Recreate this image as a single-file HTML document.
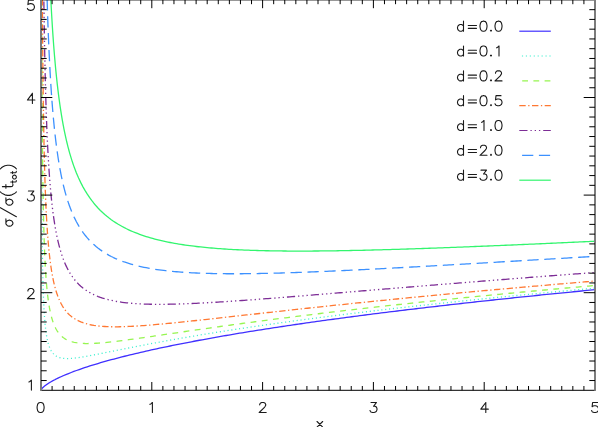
<!DOCTYPE html>
<html><head><meta charset="utf-8"><title>plot</title>
<style>html,body{margin:0;padding:0;background:#fff;font-family:"Liberation Sans",sans-serif}body{width:598px;height:427px;overflow:hidden}</style></head>
<body>
<svg width="598" height="427" viewBox="0 0 598 427" style="display:block">
<rect width="598" height="427" fill="#fff"/>
<defs><clipPath id="c"><rect x="41.00" y="-0.10" width="554.00" height="390.40"/></clipPath></defs>
<path d="M595.00,289.69 L592.33,289.95 L589.65,290.21 L586.98,290.46 L584.31,290.72 L581.64,290.98 L578.96,291.24 L576.29,291.50 L573.62,291.77 L570.95,292.03 L568.27,292.29 L565.60,292.56 L562.93,292.82 L560.26,293.09 L557.58,293.35 L554.91,293.62 L552.24,293.89 L549.57,294.15 L546.89,294.42 L544.22,294.69 L541.55,294.96 L538.88,295.24 L536.20,295.51 L533.53,295.78 L530.86,296.06 L528.19,296.33 L525.51,296.61 L522.84,296.88 L520.17,297.16 L517.50,297.44 L514.82,297.72 L512.15,298.00 L509.48,298.28 L506.81,298.56 L504.13,298.84 L501.46,299.13 L498.79,299.41 L496.12,299.70 L493.44,299.98 L490.77,300.27 L488.10,300.56 L485.42,300.85 L482.75,301.14 L480.08,301.43 L477.41,301.72 L474.73,302.02 L472.06,302.31 L469.39,302.60 L466.72,302.90 L464.04,303.20 L461.37,303.50 L458.70,303.80 L456.03,304.10 L453.35,304.40 L450.68,304.70 L448.01,305.00 L445.34,305.31 L442.66,305.61 L439.99,305.92 L437.32,306.23 L434.65,306.54 L431.97,306.85 L429.30,307.16 L426.63,307.47 L423.96,307.78 L421.28,308.10 L418.61,308.41 L415.94,308.73 L413.27,309.05 L410.59,309.37 L407.92,309.69 L405.25,310.01 L402.58,310.34 L399.90,310.66 L397.23,310.99 L394.56,311.31 L391.89,311.64 L389.21,311.97 L386.54,312.31 L383.87,312.64 L381.19,312.97 L378.52,313.31 L375.85,313.64 L373.18,313.98 L370.50,314.32 L367.83,314.66 L365.16,315.01 L362.49,315.35 L359.81,315.70 L357.14,316.05 L354.47,316.39 L351.80,316.75 L349.12,317.10 L346.45,317.45 L343.78,317.81 L341.11,318.16 L338.43,318.52 L335.76,318.88 L333.09,319.25 L330.42,319.61 L327.74,319.98 L325.07,320.34 L322.40,320.71 L319.73,321.08 L317.05,321.46 L314.38,321.83 L311.71,322.21 L309.04,322.59 L306.36,322.97 L303.69,323.35 L301.02,323.74 L298.35,324.13 L295.67,324.51 L293.00,324.91 L290.33,325.30 L287.66,325.69 L284.98,326.09 L282.31,326.49 L279.64,326.90 L276.97,327.30 L274.29,327.71 L271.62,328.12 L268.95,328.53 L266.27,328.94 L263.60,329.36 L260.93,329.78 L258.26,330.20 L255.58,330.63 L252.91,331.05 L250.24,331.48 L247.57,331.92 L244.89,332.35 L242.22,332.79 L239.55,333.23 L236.88,333.68 L234.20,334.13 L231.53,334.58 L228.86,335.03 L226.19,335.49 L223.51,335.95 L220.84,336.42 L218.17,336.88 L215.50,337.35 L212.82,337.83 L210.15,338.31 L207.48,338.79 L204.81,339.28 L202.13,339.77 L199.46,340.26 L196.79,340.76 L194.12,341.26 L191.44,341.77 L188.77,342.28 L186.10,342.79 L183.43,343.31 L180.75,343.84 L178.08,344.37 L175.41,344.90 L172.74,345.44 L170.06,345.99 L167.39,346.54 L164.72,347.10 L162.04,347.66 L159.37,348.23 L156.70,348.80 L154.03,349.38 L151.35,349.97 L148.68,350.56 L146.01,351.16 L143.34,351.77 L140.66,352.39 L137.99,353.01 L135.32,353.64 L132.65,354.28 L129.97,354.93 L127.30,355.58 L124.63,356.25 L121.96,356.92 L119.28,357.61 L116.61,358.31 L113.94,359.01 L111.27,359.73 L108.59,360.46 L105.92,361.21 L103.25,361.96 L100.58,362.73 L97.90,363.52 L95.23,364.32 L92.56,365.14 L89.89,365.98 L87.21,366.84 L84.54,367.72 L81.87,368.62 L79.20,369.54 L76.52,370.49 L73.85,371.47 L71.18,372.49 L68.51,373.54 L65.83,374.63 L63.16,375.76 L62.88,375.88 L62.60,376.01 L62.32,376.13 L62.04,376.25 L61.76,376.38 L61.48,376.50 L61.20,376.63 L60.92,376.75 L60.64,376.88 L60.35,377.01 L60.07,377.14 L59.79,377.27 L59.51,377.40 L59.23,377.53 L58.95,377.66 L58.67,377.79 L58.39,377.92 L58.11,378.06 L57.83,378.19 L57.55,378.33 L57.27,378.46 L56.99,378.60 L56.71,378.74 L56.43,378.88 L56.15,379.02 L55.87,379.16 L55.59,379.30 L55.31,379.44 L55.03,379.59 L54.74,379.73 L54.46,379.88 L54.18,380.02 L53.90,380.17 L53.62,380.32 L53.34,380.47 L53.06,380.62 L52.78,380.78 L52.50,380.93 L52.22,381.08 L51.94,381.24 L51.66,381.40 L51.38,381.56 L51.10,381.72 L50.82,381.88 L50.54,382.05 L50.26,382.21 L49.98,382.38 L49.70,382.55 L49.42,382.72 L49.13,382.89 L48.85,383.07 L48.57,383.25 L48.29,383.43 L48.01,383.61 L47.73,383.79 L47.45,383.98 L47.17,384.17 L46.89,384.36 L46.61,384.56 L46.33,384.76 L46.05,384.96 L45.77,385.17 L45.49,385.38 L45.21,385.59 L44.93,385.81 L44.65,386.04 L44.37,386.27 L44.09,386.50 L43.81,386.75 L43.52,387.00 L43.24,387.26 L42.96,387.53 L42.68,387.81 L42.40,388.11 L42.12,388.43 L41.84,388.77 L41.56,389.15 L41.28,389.59 L41.00,390.30" fill="none" stroke="#4030ff" stroke-width="1.30" stroke-linejoin="round" clip-path="url(#c)"/>
<path d="M595.00,288.13 L592.82,288.33 L590.64,288.53 L588.46,288.73 L586.28,288.92 L584.11,289.12 L581.93,289.32 L579.75,289.52 L577.57,289.72 L575.39,289.92 L573.21,290.12 L571.03,290.32 L568.85,290.53 L566.67,290.73 L564.50,290.93 L562.32,291.14 L560.14,291.34 L557.96,291.54 L555.78,291.75 L553.60,291.95 L551.42,292.16 L549.24,292.37 L547.06,292.57 L544.89,292.78 L542.71,292.99 L540.53,293.19 L538.35,293.40 L536.17,293.61 L533.99,293.82 L531.81,294.03 L529.63,294.24 L527.45,294.45 L525.27,294.67 L523.10,294.88 L520.92,295.09 L518.74,295.30 L516.56,295.52 L514.38,295.73 L512.20,295.95 L510.02,296.16 L507.84,296.38 L505.66,296.59 L503.49,296.81 L501.31,297.03 L499.13,297.25 L496.95,297.47 L494.77,297.68 L492.59,297.90 L490.41,298.12 L488.23,298.35 L486.05,298.57 L483.88,298.79 L481.70,299.01 L479.52,299.24 L477.34,299.46 L475.16,299.68 L472.98,299.91 L470.80,300.13 L468.62,300.36 L466.44,300.59 L464.27,300.81 L462.09,301.04 L459.91,301.27 L457.73,301.50 L455.55,301.73 L453.37,301.96 L451.19,302.19 L449.01,302.43 L446.83,302.66 L444.66,302.89 L442.48,303.12 L440.30,303.36 L438.12,303.59 L435.94,303.83 L433.76,304.07 L431.58,304.30 L429.40,304.54 L427.22,304.78 L425.04,305.02 L422.87,305.26 L420.69,305.50 L418.51,305.74 L416.33,305.99 L414.15,306.23 L411.97,306.47 L409.79,306.72 L407.61,306.96 L405.43,307.21 L403.26,307.45 L401.08,307.70 L398.90,307.95 L396.72,308.20 L394.54,308.45 L392.36,308.70 L390.18,308.95 L388.00,309.20 L385.82,309.46 L383.65,309.71 L381.47,309.97 L379.29,310.22 L377.11,310.48 L374.93,310.74 L372.75,310.99 L370.57,311.25 L368.39,311.51 L366.21,311.77 L364.04,312.03 L361.86,312.30 L359.68,312.56 L357.50,312.82 L355.32,313.09 L353.14,313.36 L350.96,313.62 L348.78,313.89 L346.60,314.16 L344.43,314.43 L342.25,314.70 L340.07,314.97 L337.89,315.25 L335.71,315.52 L333.53,315.79 L331.35,316.07 L329.17,316.35 L326.99,316.62 L324.81,316.90 L322.64,317.18 L320.46,317.46 L318.28,317.75 L316.10,318.03 L313.92,318.31 L311.74,318.60 L309.56,318.89 L307.38,319.17 L305.20,319.46 L303.03,319.75 L300.85,320.04 L298.67,320.34 L296.49,320.63 L294.31,320.92 L292.13,321.22 L289.95,321.52 L287.77,321.82 L285.59,322.11 L283.42,322.42 L281.24,322.72 L279.06,323.02 L276.88,323.33 L274.70,323.63 L272.52,323.94 L270.34,324.25 L268.16,324.56 L265.98,324.87 L263.81,325.18 L261.63,325.50 L259.45,325.81 L257.27,326.13 L255.09,326.45 L252.91,326.77 L250.73,327.09 L248.55,327.41 L246.37,327.73 L244.20,328.06 L242.02,328.39 L239.84,328.72 L237.66,329.05 L235.48,329.38 L233.30,329.71 L231.12,330.05 L228.94,330.38 L226.76,330.72 L224.58,331.06 L222.41,331.41 L220.23,331.75 L218.05,332.10 L215.87,332.44 L213.69,332.79 L211.51,333.14 L209.33,333.50 L207.15,333.85 L204.97,334.21 L202.80,334.56 L200.62,334.92 L198.44,335.29 L196.26,335.65 L194.08,336.02 L191.90,336.39 L189.72,336.76 L187.54,337.13 L185.36,337.50 L183.19,337.88 L181.01,338.26 L178.83,338.64 L176.65,339.02 L174.47,339.40 L172.29,339.79 L170.11,340.18 L167.93,340.57 L165.75,340.96 L163.58,341.36 L161.40,341.76 L159.22,342.16 L157.04,342.56 L154.86,342.97 L152.68,343.37 L150.50,343.78 L148.32,344.19 L146.14,344.61 L143.97,345.02 L141.79,345.44 L139.61,345.86 L137.43,346.28 L135.25,346.71 L133.07,347.13 L130.89,347.56 L128.71,347.99 L126.53,348.43 L124.35,348.86 L122.18,349.30 L120.00,349.73 L117.82,350.17 L115.64,350.61 L113.46,351.05 L111.28,351.49 L109.10,351.93 L106.92,352.37 L104.74,352.81 L102.57,353.24 L100.39,353.68 L98.21,354.11 L96.03,354.54 L93.85,354.96 L91.67,355.38 L89.49,355.78 L87.31,356.18 L85.13,356.57 L82.96,356.93 L80.78,357.28 L78.60,357.61 L76.42,357.90 L74.24,358.15 L73.65,358.21 L73.08,358.27 L72.51,358.32 L71.96,358.37 L71.41,358.41 L70.88,358.44 L70.35,358.48 L69.83,358.50 L69.32,358.53 L68.83,358.54 L68.33,358.56 L67.85,358.56 L67.38,358.57 L66.92,358.56 L66.46,358.56 L66.01,358.55 L65.57,358.53 L65.14,358.51 L64.71,358.48 L64.29,358.45 L63.88,358.41 L63.48,358.37 L63.08,358.32 L62.69,358.27 L62.31,358.21 L61.94,358.15 L61.57,358.08 L61.20,358.01 L60.85,357.93 L60.50,357.84 L60.15,357.75 L59.82,357.66 L59.49,357.56 L59.16,357.45 L58.84,357.34 L58.53,357.22 L58.22,357.10 L57.91,356.97 L57.62,356.84 L57.32,356.70 L57.03,356.55 L56.75,356.40 L56.47,356.24 L56.20,356.08 L55.93,355.91 L55.67,355.74 L55.41,355.56 L55.16,355.37 L54.91,355.18 L54.66,354.98 L54.42,354.77 L54.19,354.56 L53.95,354.34 L53.73,354.12 L53.50,353.88 L53.28,353.65 L53.06,353.40 L52.85,353.15 L52.64,352.90 L52.44,352.63 L52.24,352.36 L52.04,352.08 L51.84,351.80 L51.65,351.51 L51.46,351.21 L51.28,350.91 L51.10,350.59 L50.92,350.27 L50.75,349.95 L50.57,349.61 L50.41,349.27 L50.24,348.93 L50.08,348.57 L49.92,348.21 L49.76,347.84 L49.61,347.46 L49.45,347.07 L49.31,346.68 L49.16,346.28 L49.01,345.87 L48.87,345.45 L48.73,345.03 L48.60,344.60 L48.46,344.15 L48.33,343.71 L48.20,343.25 L48.08,342.78 L47.95,342.31 L47.83,341.83 L47.71,341.33 L47.59,340.83 L47.47,340.33 L47.36,339.81 L47.25,339.28 L47.14,338.75 L47.03,338.20 L46.92,337.65 L46.82,337.09 L46.72,336.52 L46.62,335.94 L46.52,335.35 L46.42,334.75 L46.32,334.14 L46.23,333.52 L46.14,332.89 L46.05,332.26 L45.96,331.61 L45.87,330.95 L45.79,330.28 L45.70,329.61 L45.62,328.92 L45.54,328.22 L45.46,327.51 L45.38,326.79 L45.30,326.07 L45.23,325.33 L45.15,324.58 L45.08,323.81 L45.01,323.04 L44.94,322.26 L44.87,321.47 L44.80,320.66 L44.73,319.84 L44.67,319.02 L44.60,318.18 L44.54,317.33 L44.48,316.46 L44.41,315.59 L44.35,314.71 L44.29,313.81 L44.24,312.90 L44.18,311.98 L44.12,311.04 L44.07,310.10 L44.01,309.14 L43.96,308.17 L43.91,307.19 L43.86,306.19 L43.81,305.18 L43.76,304.16 L43.71,303.12 L43.66,302.08 L43.61,301.02 L43.57,299.94 L43.52,298.85 L43.48,297.75 L43.44,296.64 L43.39,295.51 L43.35,294.37 L43.31,293.21 L43.27,292.04 L43.23,290.86 L43.19,289.66 L43.15,288.45 L43.11,287.22 L43.08,285.98 L43.04,284.72 L43.00,283.45 L42.97,282.16 L42.93,280.86 L42.90,279.54 L42.87,278.21 L42.83,276.86 L42.80,275.50 L42.77,274.12 L42.74,272.72 L42.71,271.31 L42.68,269.88 L42.65,268.44 L42.62,266.98 L42.59,265.51 L42.56,264.01 L42.53,262.50 L42.51,260.98 L42.48,259.43 L42.45,257.87 L42.43,256.29 L42.40,254.70 L42.38,253.09 L42.35,251.46 L42.33,249.81 L42.31,248.14 L42.28,246.46 L42.26,244.75 L42.24,243.03 L42.22,241.29 L42.20,239.53 L42.17,237.76 L42.15,235.96 L42.13,234.14 L42.11,232.31 L42.09,230.45 L42.07,228.58 L42.06,226.69 L42.04,224.77 L42.02,222.84 L42.00,220.88 L41.98,218.91 L41.97,216.91 L41.95,214.90 L41.93,212.86 L41.92,210.80 L41.90,208.72 L41.88,206.62 L41.87,204.50 L41.85,202.36 L41.84,200.19 L41.82,198.00 L41.81,195.79 L41.79,193.56 L41.78,191.30 L41.77,189.02 L41.75,186.72 L41.74,184.39 L41.73,182.04 L41.71,179.67 L41.70,177.27 L41.69,174.85 L41.68,172.41 L41.66,169.94 L41.65,167.45 L41.64,164.93 L41.63,162.38 L41.62,159.81 L41.61,157.22 L41.60,154.60 L41.59,151.95 L41.58,149.28 L41.57,146.58 L41.56,143.86 L41.55,141.10 L41.54,138.33 L41.53,135.52 L41.52,132.69 L41.51,129.82 L41.50,126.94 L41.49,124.02 L41.48,121.07 L41.47,118.10 L41.47,115.09 L41.46,112.06 L41.45,109.00 L41.44,105.91 L41.43,102.79 L41.43,99.64 L41.42,96.46 L41.41,93.24 L41.40,90.00 L41.40,86.73 L41.39,83.42 L41.38,80.08 L41.38,76.72 L41.37,73.31 L41.36,69.88 L41.36,66.41 L41.35,62.92 L41.34,59.38 L41.34,55.82 L41.33,52.22" fill="none" stroke="#40f0d0" stroke-width="1.30" stroke-linejoin="round" stroke-dasharray="1.1 2.78" stroke-dashoffset="3.58" clip-path="url(#c)"/>
<path d="M595.00,285.49 L592.82,285.69 L590.64,285.88 L588.46,286.07 L586.28,286.26 L584.11,286.45 L581.93,286.65 L579.75,286.84 L577.57,287.03 L575.39,287.23 L573.21,287.42 L571.03,287.62 L568.85,287.81 L566.67,288.01 L564.50,288.20 L562.32,288.40 L560.14,288.60 L557.96,288.79 L555.78,288.99 L553.60,289.19 L551.42,289.39 L549.24,289.59 L547.06,289.79 L544.89,289.99 L542.71,290.19 L540.53,290.39 L538.35,290.59 L536.17,290.79 L533.99,290.99 L531.81,291.20 L529.63,291.40 L527.45,291.60 L525.27,291.81 L523.10,292.01 L520.92,292.22 L518.74,292.42 L516.56,292.63 L514.38,292.84 L512.20,293.04 L510.02,293.25 L507.84,293.46 L505.66,293.67 L503.49,293.87 L501.31,294.08 L499.13,294.29 L496.95,294.50 L494.77,294.71 L492.59,294.93 L490.41,295.14 L488.23,295.35 L486.05,295.56 L483.88,295.78 L481.70,295.99 L479.52,296.20 L477.34,296.42 L475.16,296.63 L472.98,296.85 L470.80,297.07 L468.62,297.28 L466.44,297.50 L464.27,297.72 L462.09,297.94 L459.91,298.16 L457.73,298.37 L455.55,298.59 L453.37,298.82 L451.19,299.04 L449.01,299.26 L446.83,299.48 L444.66,299.70 L442.48,299.93 L440.30,300.15 L438.12,300.38 L435.94,300.60 L433.76,300.83 L431.58,301.05 L429.40,301.28 L427.22,301.51 L425.04,301.74 L422.87,301.97 L420.69,302.20 L418.51,302.43 L416.33,302.66 L414.15,302.89 L411.97,303.12 L409.79,303.35 L407.61,303.59 L405.43,303.82 L403.26,304.05 L401.08,304.29 L398.90,304.52 L396.72,304.76 L394.54,305.00 L392.36,305.24 L390.18,305.47 L388.00,305.71 L385.82,305.95 L383.65,306.19 L381.47,306.43 L379.29,306.68 L377.11,306.92 L374.93,307.16 L372.75,307.41 L370.57,307.65 L368.39,307.90 L366.21,308.14 L364.04,308.39 L361.86,308.64 L359.68,308.88 L357.50,309.13 L355.32,309.38 L353.14,309.63 L350.96,309.88 L348.78,310.14 L346.60,310.39 L344.43,310.64 L342.25,310.90 L340.07,311.15 L337.89,311.41 L335.71,311.66 L333.53,311.92 L331.35,312.18 L329.17,312.44 L326.99,312.70 L324.81,312.96 L322.64,313.22 L320.46,313.48 L318.28,313.75 L316.10,314.01 L313.92,314.27 L311.74,314.54 L309.56,314.81 L307.38,315.07 L305.20,315.34 L303.03,315.61 L300.85,315.88 L298.67,316.15 L296.49,316.42 L294.31,316.70 L292.13,316.97 L289.95,317.24 L287.77,317.52 L285.59,317.79 L283.42,318.07 L281.24,318.35 L279.06,318.63 L276.88,318.91 L274.70,319.19 L272.52,319.47 L270.34,319.75 L268.16,320.03 L265.98,320.32 L263.81,320.60 L261.63,320.89 L259.45,321.18 L257.27,321.47 L255.09,321.75 L252.91,322.04 L250.73,322.34 L248.55,322.63 L246.37,322.92 L244.20,323.21 L242.02,323.51 L239.84,323.80 L237.66,324.10 L235.48,324.40 L233.30,324.70 L231.12,325.00 L228.94,325.30 L226.76,325.60 L224.58,325.90 L222.41,326.21 L220.23,326.51 L218.05,326.81 L215.87,327.12 L213.69,327.43 L211.51,327.74 L209.33,328.04 L207.15,328.35 L204.97,328.66 L202.80,328.98 L200.62,329.29 L198.44,329.60 L196.26,329.92 L194.08,330.23 L191.90,330.55 L189.72,330.86 L187.54,331.18 L185.36,331.50 L183.19,331.81 L181.01,332.13 L178.83,332.45 L176.65,332.77 L174.47,333.09 L172.29,333.41 L170.11,333.73 L167.93,334.05 L165.75,334.37 L163.58,334.69 L161.40,335.02 L159.22,335.34 L157.04,335.66 L154.86,335.98 L152.68,336.30 L150.50,336.62 L148.32,336.93 L146.14,337.25 L143.97,337.57 L141.79,337.88 L139.61,338.19 L137.43,338.50 L135.25,338.81 L133.07,339.12 L130.89,339.42 L128.71,339.72 L126.53,340.01 L124.35,340.30 L122.18,340.59 L120.00,340.87 L117.82,341.14 L115.64,341.41 L113.46,341.66 L111.28,341.91 L109.10,342.15 L106.92,342.38 L104.74,342.59 L102.57,342.79 L100.39,342.97 L98.21,343.13 L96.03,343.27 L93.85,343.38 L91.67,343.47 L89.49,343.52 L87.31,343.53 L85.13,343.50 L82.96,343.41 L80.78,343.26 L78.60,343.04 L76.42,342.73 L74.24,342.32 L73.65,342.19 L73.08,342.05 L72.51,341.91 L71.96,341.75 L71.41,341.59 L70.88,341.43 L70.35,341.25 L69.83,341.07 L69.32,340.88 L68.83,340.68 L68.33,340.48 L67.85,340.27 L67.38,340.05 L66.92,339.82 L66.46,339.59 L66.01,339.35 L65.57,339.10 L65.14,338.84 L64.71,338.58 L64.29,338.30 L63.88,338.02 L63.48,337.73 L63.08,337.44 L62.69,337.13 L62.31,336.82 L61.94,336.50 L61.57,336.17 L61.20,335.83 L60.85,335.48 L60.50,335.13 L60.15,334.76 L59.82,334.39 L59.49,334.01 L59.16,333.62 L58.84,333.22 L58.53,332.82 L58.22,332.40 L57.91,331.98 L57.62,331.54 L57.32,331.10 L57.03,330.65 L56.75,330.19 L56.47,329.72 L56.20,329.24 L55.93,328.75 L55.67,328.25 L55.41,327.74 L55.16,327.23 L54.91,326.70 L54.66,326.16 L54.42,325.62 L54.19,325.06 L53.95,324.49 L53.73,323.91 L53.50,323.33 L53.28,322.73 L53.06,322.12 L52.85,321.51 L52.64,320.88 L52.44,320.24 L52.24,319.59 L52.04,318.93 L51.84,318.26 L51.65,317.58 L51.46,316.88 L51.28,316.18 L51.10,315.47 L50.92,314.74 L50.75,314.00 L50.57,313.26 L50.41,312.50 L50.24,311.72 L50.08,310.94 L49.92,310.15 L49.76,309.34 L49.61,308.52 L49.45,307.69 L49.31,306.85 L49.16,305.99 L49.01,305.13 L48.87,304.25 L48.73,303.36 L48.60,302.45 L48.46,301.54 L48.33,300.61 L48.20,299.67 L48.08,298.71 L47.95,297.74 L47.83,296.76 L47.71,295.77 L47.59,294.76 L47.47,293.74 L47.36,292.70 L47.25,291.65 L47.14,290.59 L47.03,289.52 L46.92,288.43 L46.82,287.32 L46.72,286.21 L46.62,285.07 L46.52,283.93 L46.42,282.77 L46.32,281.59 L46.23,280.40 L46.14,279.19 L46.05,277.97 L45.96,276.74 L45.87,275.49 L45.79,274.22 L45.70,272.94 L45.62,271.64 L45.54,270.33 L45.46,269.00 L45.38,267.66 L45.30,266.30 L45.23,264.92 L45.15,263.53 L45.08,262.12 L45.01,260.70 L44.94,259.25 L44.87,257.80 L44.80,256.32 L44.73,254.83 L44.67,253.32 L44.60,251.79 L44.54,250.25 L44.48,248.68 L44.41,247.10 L44.35,245.51 L44.29,243.89 L44.24,242.26 L44.18,240.60 L44.12,238.93 L44.07,237.24 L44.01,235.54 L43.96,233.81 L43.91,232.06 L43.86,230.30 L43.81,228.51 L43.76,226.71 L43.71,224.89 L43.66,223.04 L43.61,221.18 L43.57,219.30 L43.52,217.40 L43.48,215.47 L43.44,213.53 L43.39,211.56 L43.35,209.58 L43.31,207.57 L43.27,205.54 L43.23,203.49 L43.19,201.42 L43.15,199.33 L43.11,197.21 L43.08,195.07 L43.04,192.91 L43.00,190.73 L42.97,188.53 L42.93,186.30 L42.90,184.05 L42.87,181.78 L42.83,179.48 L42.80,177.16 L42.77,174.82 L42.74,172.45 L42.71,170.05 L42.68,167.64 L42.65,165.20 L42.62,162.73 L42.59,160.24 L42.56,157.72 L42.53,155.18 L42.51,152.62 L42.48,150.02 L42.45,147.40 L42.43,144.76 L42.40,142.09 L42.38,139.39 L42.35,136.66 L42.33,133.91 L42.31,131.13 L42.28,128.33 L42.26,125.49 L42.24,122.63 L42.22,119.74 L42.20,116.82 L42.17,113.87 L42.15,110.89 L42.13,107.89 L42.11,104.85 L42.09,101.79 L42.07,98.69 L42.06,95.57 L42.04,92.41 L42.02,89.22 L42.00,86.01 L41.98,82.76 L41.97,79.48 L41.95,76.17 L41.93,72.82 L41.92,69.45 L41.90,66.04 L41.88,62.60 L41.87,59.13 L41.85,55.62 L41.84,52.08 L41.82,48.50 L41.81,44.89 L41.79,41.25 L41.78,37.57 L41.77,33.86 L41.75,30.11 L41.74,26.33 L41.73,22.51 L41.71,18.65 L41.70,14.76 L41.69,10.83 L41.68,6.86 L41.66,2.85 L41.65,-1.19 L41.64,-5.27 L41.63,-9.39 L41.62,-13.55 L41.61,-17.74 L41.60,-21.98 L41.59,-26.26 L41.58,-30.57" fill="none" stroke="#96f550" stroke-width="1.30" stroke-linejoin="round" stroke-dasharray="5.83 5.45" stroke-dashoffset="9.10" clip-path="url(#c)"/>
<path d="M595.00,281.03 L592.82,281.21 L590.64,281.40 L588.46,281.58 L586.28,281.76 L584.11,281.94 L581.93,282.12 L579.75,282.31 L577.57,282.49 L575.39,282.67 L573.21,282.86 L571.03,283.04 L568.85,283.22 L566.67,283.41 L564.50,283.59 L562.32,283.78 L560.14,283.97 L557.96,284.15 L555.78,284.34 L553.60,284.52 L551.42,284.71 L549.24,284.90 L547.06,285.09 L544.89,285.28 L542.71,285.46 L540.53,285.65 L538.35,285.84 L536.17,286.03 L533.99,286.22 L531.81,286.41 L529.63,286.60 L527.45,286.79 L525.27,286.99 L523.10,287.18 L520.92,287.37 L518.74,287.56 L516.56,287.75 L514.38,287.95 L512.20,288.14 L510.02,288.34 L507.84,288.53 L505.66,288.73 L503.49,288.92 L501.31,289.12 L499.13,289.31 L496.95,289.51 L494.77,289.71 L492.59,289.90 L490.41,290.10 L488.23,290.30 L486.05,290.50 L483.88,290.69 L481.70,290.89 L479.52,291.09 L477.34,291.29 L475.16,291.49 L472.98,291.69 L470.80,291.90 L468.62,292.10 L466.44,292.30 L464.27,292.50 L462.09,292.70 L459.91,292.91 L457.73,293.11 L455.55,293.32 L453.37,293.52 L451.19,293.72 L449.01,293.93 L446.83,294.14 L444.66,294.34 L442.48,294.55 L440.30,294.76 L438.12,294.96 L435.94,295.17 L433.76,295.38 L431.58,295.59 L429.40,295.80 L427.22,296.01 L425.04,296.22 L422.87,296.43 L420.69,296.64 L418.51,296.85 L416.33,297.06 L414.15,297.27 L411.97,297.49 L409.79,297.70 L407.61,297.91 L405.43,298.13 L403.26,298.34 L401.08,298.56 L398.90,298.77 L396.72,298.99 L394.54,299.20 L392.36,299.42 L390.18,299.64 L388.00,299.86 L385.82,300.07 L383.65,300.29 L381.47,300.51 L379.29,300.73 L377.11,300.95 L374.93,301.17 L372.75,301.39 L370.57,301.61 L368.39,301.84 L366.21,302.06 L364.04,302.28 L361.86,302.50 L359.68,302.73 L357.50,302.95 L355.32,303.18 L353.14,303.40 L350.96,303.63 L348.78,303.85 L346.60,304.08 L344.43,304.31 L342.25,304.54 L340.07,304.76 L337.89,304.99 L335.71,305.22 L333.53,305.45 L331.35,305.68 L329.17,305.91 L326.99,306.14 L324.81,306.37 L322.64,306.60 L320.46,306.83 L318.28,307.07 L316.10,307.30 L313.92,307.53 L311.74,307.77 L309.56,308.00 L307.38,308.24 L305.20,308.47 L303.03,308.71 L300.85,308.94 L298.67,309.18 L296.49,309.41 L294.31,309.65 L292.13,309.89 L289.95,310.13 L287.77,310.36 L285.59,310.60 L283.42,310.84 L281.24,311.08 L279.06,311.32 L276.88,311.56 L274.70,311.80 L272.52,312.04 L270.34,312.28 L268.16,312.52 L265.98,312.77 L263.81,313.01 L261.63,313.25 L259.45,313.49 L257.27,313.73 L255.09,313.98 L252.91,314.22 L250.73,314.46 L248.55,314.71 L246.37,314.95 L244.20,315.19 L242.02,315.44 L239.84,315.68 L237.66,315.92 L235.48,316.17 L233.30,316.41 L231.12,316.65 L228.94,316.90 L226.76,317.14 L224.58,317.38 L222.41,317.63 L220.23,317.87 L218.05,318.11 L215.87,318.35 L213.69,318.59 L211.51,318.83 L209.33,319.08 L207.15,319.32 L204.97,319.55 L202.80,319.79 L200.62,320.03 L198.44,320.27 L196.26,320.50 L194.08,320.74 L191.90,320.97 L189.72,321.21 L187.54,321.44 L185.36,321.67 L183.19,321.90 L181.01,322.12 L178.83,322.35 L176.65,322.57 L174.47,322.79 L172.29,323.01 L170.11,323.23 L167.93,323.44 L165.75,323.65 L163.58,323.86 L161.40,324.06 L159.22,324.26 L157.04,324.46 L154.86,324.65 L152.68,324.84 L150.50,325.02 L148.32,325.19 L146.14,325.37 L143.97,325.53 L141.79,325.69 L139.61,325.84 L137.43,325.98 L135.25,326.12 L133.07,326.24 L130.89,326.36 L128.71,326.46 L126.53,326.55 L124.35,326.63 L122.18,326.70 L120.00,326.75 L117.82,326.78 L115.64,326.79 L113.46,326.79 L111.28,326.76 L109.10,326.71 L106.92,326.63 L104.74,326.52 L102.57,326.37 L100.39,326.19 L98.21,325.97 L96.03,325.70 L93.85,325.38 L91.67,325.00 L89.49,324.55 L87.31,324.03 L85.13,323.42 L82.96,322.71 L80.78,321.89 L78.60,320.93 L76.42,319.81 L74.24,318.50 L73.65,318.12 L73.08,317.72 L72.51,317.31 L71.96,316.90 L71.41,316.47 L70.88,316.04 L70.35,315.59 L69.83,315.14 L69.32,314.67 L68.83,314.19 L68.33,313.71 L67.85,313.21 L67.38,312.70 L66.92,312.19 L66.46,311.66 L66.01,311.12 L65.57,310.57 L65.14,310.01 L64.71,309.44 L64.29,308.86 L63.88,308.27 L63.48,307.66 L63.08,307.05 L62.69,306.42 L62.31,305.79 L61.94,305.14 L61.57,304.48 L61.20,303.81 L60.85,303.13 L60.50,302.43 L60.15,301.73 L59.82,301.01 L59.49,300.28 L59.16,299.54 L58.84,298.79 L58.53,298.02 L58.22,297.24 L57.91,296.45 L57.62,295.65 L57.32,294.84 L57.03,294.01 L56.75,293.17 L56.47,292.31 L56.20,291.45 L55.93,290.57 L55.67,289.68 L55.41,288.77 L55.16,287.86 L54.91,286.92 L54.66,285.98 L54.42,285.02 L54.19,284.05 L53.95,283.06 L53.73,282.06 L53.50,281.05 L53.28,280.02 L53.06,278.98 L52.85,277.93 L52.64,276.86 L52.44,275.77 L52.24,274.67 L52.04,273.56 L51.84,272.43 L51.65,271.29 L51.46,270.13 L51.28,268.95 L51.10,267.77 L50.92,266.56 L50.75,265.34 L50.57,264.11 L50.41,262.86 L50.24,261.59 L50.08,260.31 L49.92,259.01 L49.76,257.69 L49.61,256.36 L49.45,255.02 L49.31,253.65 L49.16,252.27 L49.01,250.87 L48.87,249.46 L48.73,248.03 L48.60,246.58 L48.46,245.12 L48.33,243.63 L48.20,242.13 L48.08,240.61 L47.95,239.08 L47.83,237.52 L47.71,235.95 L47.59,234.36 L47.47,232.75 L47.36,231.12 L47.25,229.48 L47.14,227.81 L47.03,226.13 L46.92,224.43 L46.82,222.71 L46.72,220.96 L46.62,219.20 L46.52,217.42 L46.42,215.62 L46.32,213.80 L46.23,211.96 L46.14,210.10 L46.05,208.22 L45.96,206.31 L45.87,204.39 L45.79,202.45 L45.70,200.48 L45.62,198.49 L45.54,196.49 L45.46,194.46 L45.38,192.40 L45.30,190.33 L45.23,188.23 L45.15,186.12 L45.08,183.98 L45.01,181.81 L44.94,179.63 L44.87,177.42 L44.80,175.18 L44.73,172.93 L44.67,170.65 L44.60,168.34 L44.54,166.02 L44.48,163.66 L44.41,161.29 L44.35,158.89 L44.29,156.46 L44.24,154.01 L44.18,151.53 L44.12,149.03 L44.07,146.50 L44.01,143.95 L43.96,141.37 L43.91,138.77 L43.86,136.14 L43.81,133.48 L43.76,130.79 L43.71,128.08 L43.66,125.34 L43.61,122.57 L43.57,119.78 L43.52,116.95 L43.48,114.10 L43.44,111.22 L43.39,108.31 L43.35,105.38 L43.31,102.41 L43.27,99.41 L43.23,96.39 L43.19,93.33 L43.15,90.25 L43.11,87.13 L43.08,83.98 L43.04,80.80 L43.00,77.59 L42.97,74.35 L42.93,71.08 L42.90,67.78 L42.87,64.44 L42.83,61.07 L42.80,57.67 L42.77,54.23 L42.74,50.76 L42.71,47.26 L42.68,43.73 L42.65,40.16 L42.62,36.55 L42.59,32.91 L42.56,29.24 L42.53,25.53 L42.51,21.78 L42.48,18.00 L42.45,14.18 L42.43,10.33 L42.40,6.43 L42.38,2.51 L42.35,-1.46 L42.33,-5.46 L42.31,-9.51 L42.28,-13.59 L42.26,-17.71 L42.24,-21.86 L42.22,-26.06 L42.20,-30.30" fill="none" stroke="#ff7832" stroke-width="1.30" stroke-linejoin="round" stroke-dasharray="6.4 2.5 1.3 2.5" stroke-dashoffset="6.60" clip-path="url(#c)"/>
<path d="M595.00,272.49 L592.82,272.65 L590.64,272.81 L588.46,272.98 L586.28,273.14 L584.11,273.30 L581.93,273.46 L579.75,273.63 L577.57,273.79 L575.39,273.96 L573.21,274.12 L571.03,274.28 L568.85,274.45 L566.67,274.61 L564.50,274.78 L562.32,274.94 L560.14,275.11 L557.96,275.27 L555.78,275.44 L553.60,275.60 L551.42,275.77 L549.24,275.94 L547.06,276.10 L544.89,276.27 L542.71,276.44 L540.53,276.60 L538.35,276.77 L536.17,276.94 L533.99,277.11 L531.81,277.27 L529.63,277.44 L527.45,277.61 L525.27,277.78 L523.10,277.95 L520.92,278.12 L518.74,278.29 L516.56,278.46 L514.38,278.62 L512.20,278.79 L510.02,278.96 L507.84,279.14 L505.66,279.31 L503.49,279.48 L501.31,279.65 L499.13,279.82 L496.95,279.99 L494.77,280.16 L492.59,280.33 L490.41,280.50 L488.23,280.68 L486.05,280.85 L483.88,281.02 L481.70,281.19 L479.52,281.37 L477.34,281.54 L475.16,281.71 L472.98,281.89 L470.80,282.06 L468.62,282.23 L466.44,282.41 L464.27,282.58 L462.09,282.76 L459.91,282.93 L457.73,283.11 L455.55,283.28 L453.37,283.46 L451.19,283.63 L449.01,283.81 L446.83,283.98 L444.66,284.16 L442.48,284.34 L440.30,284.51 L438.12,284.69 L435.94,284.87 L433.76,285.04 L431.58,285.22 L429.40,285.40 L427.22,285.57 L425.04,285.75 L422.87,285.93 L420.69,286.11 L418.51,286.28 L416.33,286.46 L414.15,286.64 L411.97,286.82 L409.79,287.00 L407.61,287.18 L405.43,287.35 L403.26,287.53 L401.08,287.71 L398.90,287.89 L396.72,288.07 L394.54,288.25 L392.36,288.43 L390.18,288.61 L388.00,288.79 L385.82,288.97 L383.65,289.15 L381.47,289.33 L379.29,289.51 L377.11,289.69 L374.93,289.87 L372.75,290.05 L370.57,290.23 L368.39,290.41 L366.21,290.59 L364.04,290.77 L361.86,290.95 L359.68,291.13 L357.50,291.31 L355.32,291.49 L353.14,291.67 L350.96,291.85 L348.78,292.03 L346.60,292.21 L344.43,292.39 L342.25,292.57 L340.07,292.75 L337.89,292.93 L335.71,293.11 L333.53,293.29 L331.35,293.47 L329.17,293.65 L326.99,293.83 L324.81,294.01 L322.64,294.19 L320.46,294.37 L318.28,294.54 L316.10,294.72 L313.92,294.90 L311.74,295.08 L309.56,295.26 L307.38,295.43 L305.20,295.61 L303.03,295.79 L300.85,295.97 L298.67,296.14 L296.49,296.32 L294.31,296.49 L292.13,296.67 L289.95,296.84 L287.77,297.02 L285.59,297.19 L283.42,297.36 L281.24,297.53 L279.06,297.71 L276.88,297.88 L274.70,298.05 L272.52,298.22 L270.34,298.39 L268.16,298.56 L265.98,298.72 L263.81,298.89 L261.63,299.06 L259.45,299.22 L257.27,299.38 L255.09,299.55 L252.91,299.71 L250.73,299.87 L248.55,300.03 L246.37,300.19 L244.20,300.34 L242.02,300.50 L239.84,300.65 L237.66,300.81 L235.48,300.96 L233.30,301.11 L231.12,301.26 L228.94,301.40 L226.76,301.55 L224.58,301.69 L222.41,301.83 L220.23,301.97 L218.05,302.10 L215.87,302.24 L213.69,302.37 L211.51,302.50 L209.33,302.62 L207.15,302.74 L204.97,302.86 L202.80,302.98 L200.62,303.09 L198.44,303.20 L196.26,303.31 L194.08,303.41 L191.90,303.51 L189.72,303.61 L187.54,303.69 L185.36,303.78 L183.19,303.86 L181.01,303.93 L178.83,304.00 L176.65,304.07 L174.47,304.12 L172.29,304.18 L170.11,304.22 L167.93,304.26 L165.75,304.29 L163.58,304.31 L161.40,304.32 L159.22,304.32 L157.04,304.32 L154.86,304.30 L152.68,304.28 L150.50,304.24 L148.32,304.19 L146.14,304.13 L143.97,304.05 L141.79,303.96 L139.61,303.85 L137.43,303.73 L135.25,303.59 L133.07,303.43 L130.89,303.24 L128.71,303.04 L126.53,302.81 L124.35,302.56 L122.18,302.28 L120.00,301.97 L117.82,301.63 L115.64,301.25 L113.46,300.84 L111.28,300.38 L109.10,299.88 L106.92,299.33 L104.74,298.72 L102.57,298.06 L100.39,297.33 L98.21,296.53 L96.03,295.64 L93.85,294.67 L91.67,293.59 L89.49,292.41 L87.31,291.09 L85.13,289.63 L82.96,288.01 L80.78,286.19 L78.60,284.16 L76.42,281.87 L74.24,279.29 L73.65,278.53 L73.08,277.77 L72.51,276.99 L71.96,276.19 L71.41,275.39 L70.88,274.57 L70.35,273.74 L69.83,272.89 L69.32,272.04 L68.83,271.16 L68.33,270.28 L67.85,269.38 L67.38,268.46 L66.92,267.54 L66.46,266.60 L66.01,265.64 L65.57,264.67 L65.14,263.69 L64.71,262.69 L64.29,261.68 L63.88,260.65 L63.48,259.61 L63.08,258.55 L62.69,257.48 L62.31,256.39 L61.94,255.29 L61.57,254.17 L61.20,253.04 L60.85,251.89 L60.50,250.72 L60.15,249.55 L59.82,248.35 L59.49,247.14 L59.16,245.91 L58.84,244.67 L58.53,243.41 L58.22,242.13 L57.91,240.84 L57.62,239.53 L57.32,238.20 L57.03,236.86 L56.75,235.50 L56.47,234.12 L56.20,232.73 L55.93,231.31 L55.67,229.88 L55.41,228.44 L55.16,226.97 L54.91,225.49 L54.66,223.99 L54.42,222.47 L54.19,220.93 L53.95,219.37 L53.73,217.80 L53.50,216.20 L53.28,214.59 L53.06,212.96 L52.85,211.31 L52.64,209.63 L52.44,207.94 L52.24,206.23 L52.04,204.50 L51.84,202.76 L51.65,200.99 L51.46,199.19 L51.28,197.38 L51.10,195.55 L50.92,193.70 L50.75,191.83 L50.57,189.93 L50.41,188.02 L50.24,186.08 L50.08,184.12 L49.92,182.14 L49.76,180.14 L49.61,178.12 L49.45,176.07 L49.31,174.00 L49.16,171.91 L49.01,169.79 L48.87,167.66 L48.73,165.50 L48.60,163.31 L48.46,161.10 L48.33,158.87 L48.20,156.62 L48.08,154.34 L47.95,152.03 L47.83,149.70 L47.71,147.35 L47.59,144.97 L47.47,142.57 L47.36,140.14 L47.25,137.69 L47.14,135.21 L47.03,132.70 L46.92,130.17 L46.82,127.61 L46.72,125.02 L46.62,122.41 L46.52,119.77 L46.42,117.11 L46.32,114.41 L46.23,111.69 L46.14,108.94 L46.05,106.17 L45.96,103.36 L45.87,100.53 L45.79,97.66 L45.70,94.77 L45.62,91.85 L45.54,88.90 L45.46,85.92 L45.38,82.90 L45.30,79.86 L45.23,76.79 L45.15,73.69 L45.08,70.55 L45.01,67.39 L44.94,64.19 L44.87,60.96 L44.80,57.70 L44.73,54.41 L44.67,51.08 L44.60,47.72 L44.54,44.33 L44.48,40.91 L44.41,37.45 L44.35,33.95 L44.29,30.43 L44.24,26.86 L44.18,23.27 L44.12,19.63 L44.07,15.97 L44.01,12.26 L43.96,8.52 L43.91,4.75 L43.86,0.93 L43.81,-2.92 L43.76,-6.80 L43.71,-10.73 L43.66,-14.69 L43.61,-18.69 L43.57,-22.73 L43.52,-26.81 L43.48,-30.93" fill="none" stroke="#7d2d96" stroke-width="1.30" stroke-linejoin="round" stroke-dasharray="8.2 2.95 1.3 2.95 1.3 2.95 1.3 2.95" stroke-dashoffset="9.85" clip-path="url(#c)"/>
<path d="M595.00,256.34 L592.82,256.47 L590.64,256.60 L588.46,256.73 L586.28,256.86 L584.11,256.99 L581.93,257.12 L579.75,257.25 L577.57,257.38 L575.39,257.51 L573.21,257.64 L571.03,257.77 L568.85,257.90 L566.67,258.03 L564.50,258.16 L562.32,258.28 L560.14,258.41 L557.96,258.54 L555.78,258.67 L553.60,258.80 L551.42,258.93 L549.24,259.06 L547.06,259.19 L544.89,259.32 L542.71,259.45 L540.53,259.58 L538.35,259.71 L536.17,259.84 L533.99,259.97 L531.81,260.09 L529.63,260.22 L527.45,260.35 L525.27,260.48 L523.10,260.61 L520.92,260.74 L518.74,260.87 L516.56,261.00 L514.38,261.13 L512.20,261.25 L510.02,261.38 L507.84,261.51 L505.66,261.64 L503.49,261.77 L501.31,261.90 L499.13,262.02 L496.95,262.15 L494.77,262.28 L492.59,262.41 L490.41,262.54 L488.23,262.66 L486.05,262.79 L483.88,262.92 L481.70,263.05 L479.52,263.17 L477.34,263.30 L475.16,263.43 L472.98,263.55 L470.80,263.68 L468.62,263.81 L466.44,263.93 L464.27,264.06 L462.09,264.19 L459.91,264.31 L457.73,264.44 L455.55,264.56 L453.37,264.69 L451.19,264.81 L449.01,264.94 L446.83,265.06 L444.66,265.19 L442.48,265.31 L440.30,265.44 L438.12,265.56 L435.94,265.68 L433.76,265.81 L431.58,265.93 L429.40,266.05 L427.22,266.17 L425.04,266.30 L422.87,266.42 L420.69,266.54 L418.51,266.66 L416.33,266.78 L414.15,266.90 L411.97,267.02 L409.79,267.14 L407.61,267.26 L405.43,267.38 L403.26,267.50 L401.08,267.62 L398.90,267.74 L396.72,267.85 L394.54,267.97 L392.36,268.09 L390.18,268.20 L388.00,268.32 L385.82,268.43 L383.65,268.55 L381.47,268.66 L379.29,268.78 L377.11,268.89 L374.93,269.00 L372.75,269.11 L370.57,269.23 L368.39,269.34 L366.21,269.45 L364.04,269.56 L361.86,269.66 L359.68,269.77 L357.50,269.88 L355.32,269.99 L353.14,270.09 L350.96,270.20 L348.78,270.30 L346.60,270.40 L344.43,270.51 L342.25,270.61 L340.07,270.71 L337.89,270.81 L335.71,270.91 L333.53,271.01 L331.35,271.10 L329.17,271.20 L326.99,271.30 L324.81,271.39 L322.64,271.48 L320.46,271.57 L318.28,271.66 L316.10,271.75 L313.92,271.84 L311.74,271.93 L309.56,272.01 L307.38,272.10 L305.20,272.18 L303.03,272.26 L300.85,272.34 L298.67,272.42 L296.49,272.50 L294.31,272.57 L292.13,272.65 L289.95,272.72 L287.77,272.79 L285.59,272.86 L283.42,272.92 L281.24,272.99 L279.06,273.05 L276.88,273.11 L274.70,273.17 L272.52,273.22 L270.34,273.28 L268.16,273.33 L265.98,273.38 L263.81,273.42 L261.63,273.47 L259.45,273.51 L257.27,273.55 L255.09,273.58 L252.91,273.62 L250.73,273.65 L248.55,273.67 L246.37,273.70 L244.20,273.72 L242.02,273.73 L239.84,273.75 L237.66,273.75 L235.48,273.76 L233.30,273.76 L231.12,273.76 L228.94,273.75 L226.76,273.74 L224.58,273.72 L222.41,273.70 L220.23,273.68 L218.05,273.65 L215.87,273.61 L213.69,273.57 L211.51,273.52 L209.33,273.47 L207.15,273.41 L204.97,273.34 L202.80,273.27 L200.62,273.19 L198.44,273.11 L196.26,273.01 L194.08,272.91 L191.90,272.80 L189.72,272.68 L187.54,272.55 L185.36,272.41 L183.19,272.27 L181.01,272.11 L178.83,271.94 L176.65,271.76 L174.47,271.57 L172.29,271.37 L170.11,271.15 L167.93,270.92 L165.75,270.68 L163.58,270.42 L161.40,270.15 L159.22,269.85 L157.04,269.55 L154.86,269.22 L152.68,268.87 L150.50,268.51 L148.32,268.12 L146.14,267.71 L143.97,267.27 L141.79,266.81 L139.61,266.33 L137.43,265.81 L135.25,265.26 L133.07,264.68 L130.89,264.07 L128.71,263.41 L126.53,262.72 L124.35,261.99 L122.18,261.20 L120.00,260.37 L117.82,259.49 L115.64,258.55 L113.46,257.54 L111.28,256.47 L109.10,255.33 L106.92,254.11 L104.74,252.80 L102.57,251.39 L100.39,249.88 L98.21,248.26 L96.03,246.50 L93.85,244.61 L91.67,242.56 L89.49,240.34 L87.31,237.91 L85.13,235.27 L82.96,232.37 L80.78,229.18 L78.60,225.66 L76.42,221.76 L74.24,217.40 L73.65,216.14 L73.08,214.87 L72.51,213.57 L71.96,212.27 L71.41,210.94 L70.88,209.59 L70.35,208.23 L69.83,206.85 L69.32,205.46 L68.83,204.04 L68.33,202.61 L67.85,201.15 L67.38,199.68 L66.92,198.20 L66.46,196.69 L66.01,195.16 L65.57,193.62 L65.14,192.05 L64.71,190.47 L64.29,188.87 L63.88,187.24 L63.48,185.60 L63.08,183.94 L62.69,182.26 L62.31,180.55 L61.94,178.83 L61.57,177.09 L61.20,175.32 L60.85,173.54 L60.50,171.73 L60.15,169.91 L59.82,168.06 L59.49,166.19 L59.16,164.30 L58.84,162.39 L58.53,160.45 L58.22,158.50 L57.91,156.52 L57.62,154.51 L57.32,152.49 L57.03,150.44 L56.75,148.37 L56.47,146.28 L56.20,144.16 L55.93,142.02 L55.67,139.86 L55.41,137.67 L55.16,135.45 L54.91,133.22 L54.66,130.96 L54.42,128.67 L54.19,126.36 L53.95,124.02 L53.73,121.66 L53.50,119.27 L53.28,116.86 L53.06,114.42 L52.85,111.95 L52.64,109.46 L52.44,106.94 L52.24,104.40 L52.04,101.83 L51.84,99.23 L51.65,96.60 L51.46,93.94 L51.28,91.26 L51.10,88.55 L50.92,85.81 L50.75,83.04 L50.57,80.24 L50.41,77.42 L50.24,74.56 L50.08,71.67 L49.92,68.76 L49.76,65.81 L49.61,62.84 L49.45,59.83 L49.31,56.79 L49.16,53.72 L49.01,50.62 L48.87,47.49 L48.73,44.33 L48.60,41.13 L48.46,37.90 L48.33,34.64 L48.20,31.34 L48.08,28.02 L47.95,24.66 L47.83,21.26 L47.71,17.83 L47.59,14.37 L47.47,10.87 L47.36,7.33 L47.25,3.77 L47.14,0.16 L47.03,-3.48 L46.92,-7.16 L46.82,-10.87 L46.72,-14.62 L46.62,-18.41 L46.52,-22.23 L46.42,-26.09 L46.32,-29.99 L46.23,-33.93" fill="none" stroke="#3c91ff" stroke-width="1.30" stroke-linejoin="round" stroke-dasharray="11.3 5.64" stroke-dashoffset="11.30" clip-path="url(#c)"/>
<path d="M595.00,241.25 L592.82,241.36 L590.64,241.46 L588.46,241.56 L586.28,241.66 L584.11,241.76 L581.93,241.86 L579.75,241.96 L577.57,242.06 L575.39,242.16 L573.21,242.26 L571.03,242.36 L568.85,242.46 L566.67,242.56 L564.50,242.66 L562.32,242.76 L560.14,242.86 L557.96,242.95 L555.78,243.05 L553.60,243.15 L551.42,243.25 L549.24,243.35 L547.06,243.44 L544.89,243.54 L542.71,243.64 L540.53,243.74 L538.35,243.83 L536.17,243.93 L533.99,244.03 L531.81,244.12 L529.63,244.22 L527.45,244.31 L525.27,244.41 L523.10,244.50 L520.92,244.60 L518.74,244.69 L516.56,244.79 L514.38,244.88 L512.20,244.98 L510.02,245.07 L507.84,245.16 L505.66,245.26 L503.49,245.35 L501.31,245.44 L499.13,245.53 L496.95,245.63 L494.77,245.72 L492.59,245.81 L490.41,245.90 L488.23,245.99 L486.05,246.08 L483.88,246.17 L481.70,246.26 L479.52,246.35 L477.34,246.44 L475.16,246.52 L472.98,246.61 L470.80,246.70 L468.62,246.79 L466.44,246.87 L464.27,246.96 L462.09,247.04 L459.91,247.13 L457.73,247.21 L455.55,247.30 L453.37,247.38 L451.19,247.46 L449.01,247.55 L446.83,247.63 L444.66,247.71 L442.48,247.79 L440.30,247.87 L438.12,247.95 L435.94,248.03 L433.76,248.11 L431.58,248.19 L429.40,248.26 L427.22,248.34 L425.04,248.42 L422.87,248.49 L420.69,248.57 L418.51,248.64 L416.33,248.72 L414.15,248.79 L411.97,248.86 L409.79,248.93 L407.61,249.00 L405.43,249.07 L403.26,249.14 L401.08,249.21 L398.90,249.28 L396.72,249.34 L394.54,249.41 L392.36,249.47 L390.18,249.54 L388.00,249.60 L385.82,249.66 L383.65,249.72 L381.47,249.78 L379.29,249.84 L377.11,249.90 L374.93,249.96 L372.75,250.02 L370.57,250.07 L368.39,250.12 L366.21,250.18 L364.04,250.23 L361.86,250.28 L359.68,250.33 L357.50,250.38 L355.32,250.42 L353.14,250.47 L350.96,250.51 L348.78,250.55 L346.60,250.59 L344.43,250.63 L342.25,250.67 L340.07,250.71 L337.89,250.74 L335.71,250.78 L333.53,250.81 L331.35,250.84 L329.17,250.87 L326.99,250.90 L324.81,250.92 L322.64,250.94 L320.46,250.96 L318.28,250.98 L316.10,251.00 L313.92,251.02 L311.74,251.03 L309.56,251.04 L307.38,251.05 L305.20,251.06 L303.03,251.06 L300.85,251.07 L298.67,251.06 L296.49,251.06 L294.31,251.06 L292.13,251.05 L289.95,251.04 L287.77,251.03 L285.59,251.01 L283.42,250.99 L281.24,250.97 L279.06,250.94 L276.88,250.92 L274.70,250.89 L272.52,250.85 L270.34,250.81 L268.16,250.77 L265.98,250.73 L263.81,250.68 L261.63,250.62 L259.45,250.57 L257.27,250.51 L255.09,250.44 L252.91,250.37 L250.73,250.30 L248.55,250.22 L246.37,250.14 L244.20,250.05 L242.02,249.96 L239.84,249.86 L237.66,249.76 L235.48,249.65 L233.30,249.53 L231.12,249.41 L228.94,249.28 L226.76,249.15 L224.58,249.01 L222.41,248.87 L220.23,248.71 L218.05,248.55 L215.87,248.38 L213.69,248.21 L211.51,248.02 L209.33,247.83 L207.15,247.63 L204.97,247.42 L202.80,247.20 L200.62,246.97 L198.44,246.73 L196.26,246.49 L194.08,246.22 L191.90,245.95 L189.72,245.67 L187.54,245.37 L185.36,245.07 L183.19,244.74 L181.01,244.41 L178.83,244.06 L176.65,243.69 L174.47,243.31 L172.29,242.91 L170.11,242.50 L167.93,242.07 L165.75,241.61 L163.58,241.14 L161.40,240.65 L159.22,240.13 L157.04,239.60 L154.86,239.03 L152.68,238.45 L150.50,237.83 L148.32,237.19 L146.14,236.51 L143.97,235.81 L141.79,235.07 L139.61,234.29 L137.43,233.48 L135.25,232.63 L133.07,231.73 L130.89,230.79 L128.71,229.80 L126.53,228.76 L124.35,227.66 L122.18,226.50 L120.00,225.28 L117.82,224.00 L115.64,222.63 L113.46,221.19 L111.28,219.66 L109.10,218.04 L106.92,216.31 L104.74,214.48 L102.57,212.52 L100.39,210.43 L98.21,208.20 L96.03,205.80 L93.85,203.22 L91.67,200.45 L89.49,197.46 L87.31,194.21 L85.13,190.69 L82.96,186.85 L80.78,182.64 L78.60,178.02 L76.42,172.91 L74.24,167.24 L73.65,165.61 L73.08,163.96 L72.51,162.29 L71.96,160.59 L71.41,158.88 L70.88,157.14 L70.35,155.39 L69.83,153.61 L69.32,151.82 L68.83,150.00 L68.33,148.16 L67.85,146.29 L67.38,144.41 L66.92,142.50 L66.46,140.58 L66.01,138.63 L65.57,136.65 L65.14,134.66 L64.71,132.64 L64.29,130.60 L63.88,128.53 L63.48,126.44 L63.08,124.33 L62.69,122.19 L62.31,120.03 L61.94,117.85 L61.57,115.64 L61.20,113.41 L60.85,111.15 L60.50,108.86 L60.15,106.55 L59.82,104.22 L59.49,101.86 L59.16,99.47 L58.84,97.06 L58.53,94.62 L58.22,92.16 L57.91,89.66 L57.62,87.15 L57.32,84.60 L57.03,82.03 L56.75,79.42 L56.47,76.80 L56.20,74.14 L55.93,71.45 L55.67,68.74 L55.41,65.99 L55.16,63.22 L54.91,60.42 L54.66,57.59 L54.42,54.73 L54.19,51.84 L53.95,48.92 L53.73,45.96 L53.50,42.98 L53.28,39.97 L53.06,36.92 L52.85,33.84 L52.64,30.74 L52.44,27.60 L52.24,24.42 L52.04,21.22 L51.84,17.98 L51.65,14.70 L51.46,11.40 L51.28,8.06 L51.10,4.68 L50.92,1.28 L50.75,-2.17 L50.57,-5.64 L50.41,-9.16 L50.24,-12.71 L50.08,-16.29 L49.92,-19.91 L49.76,-23.57 L49.61,-27.26 L49.45,-30.99" fill="none" stroke="#32f56e" stroke-width="1.30" stroke-linejoin="round" clip-path="url(#c)"/>
<path d="M40.50,-0.10 H595.50 M40.50,390.30 H595.50" stroke="#000" stroke-width="1" fill="none"/>
<path d="M41.00,0.00 V390.80 M595.00,0.00 V390.80" stroke="#7c7c7c" stroke-width="2" fill="none"/>
<path d="M52.08,390.30 V386.00 M52.08,-0.10 V4.20 M63.16,390.30 V386.00 M63.16,-0.10 V4.20 M74.24,390.30 V386.00 M74.24,-0.10 V4.20 M85.32,390.30 V386.00 M85.32,-0.10 V4.20 M96.40,390.30 V386.00 M96.40,-0.10 V4.20 M107.48,390.30 V386.00 M107.48,-0.10 V4.20 M118.56,390.30 V386.00 M118.56,-0.10 V4.20 M129.64,390.30 V386.00 M129.64,-0.10 V4.20 M140.72,390.30 V386.00 M140.72,-0.10 V4.20 M151.80,390.30 V382.00 M151.80,-0.10 V8.20 M162.88,390.30 V386.00 M162.88,-0.10 V4.20 M173.96,390.30 V386.00 M173.96,-0.10 V4.20 M185.04,390.30 V386.00 M185.04,-0.10 V4.20 M196.12,390.30 V386.00 M196.12,-0.10 V4.20 M207.20,390.30 V386.00 M207.20,-0.10 V4.20 M218.28,390.30 V386.00 M218.28,-0.10 V4.20 M229.36,390.30 V386.00 M229.36,-0.10 V4.20 M240.44,390.30 V386.00 M240.44,-0.10 V4.20 M251.52,390.30 V386.00 M251.52,-0.10 V4.20 M262.60,390.30 V382.00 M262.60,-0.10 V8.20 M273.68,390.30 V386.00 M273.68,-0.10 V4.20 M284.76,390.30 V386.00 M284.76,-0.10 V4.20 M295.84,390.30 V386.00 M295.84,-0.10 V4.20 M306.92,390.30 V386.00 M306.92,-0.10 V4.20 M318.00,390.30 V386.00 M318.00,-0.10 V4.20 M329.08,390.30 V386.00 M329.08,-0.10 V4.20 M340.16,390.30 V386.00 M340.16,-0.10 V4.20 M351.24,390.30 V386.00 M351.24,-0.10 V4.20 M362.32,390.30 V386.00 M362.32,-0.10 V4.20 M373.40,390.30 V382.00 M373.40,-0.10 V8.20 M384.48,390.30 V386.00 M384.48,-0.10 V4.20 M395.56,390.30 V386.00 M395.56,-0.10 V4.20 M406.64,390.30 V386.00 M406.64,-0.10 V4.20 M417.72,390.30 V386.00 M417.72,-0.10 V4.20 M428.80,390.30 V386.00 M428.80,-0.10 V4.20 M439.88,390.30 V386.00 M439.88,-0.10 V4.20 M450.96,390.30 V386.00 M450.96,-0.10 V4.20 M462.04,390.30 V386.00 M462.04,-0.10 V4.20 M473.12,390.30 V386.00 M473.12,-0.10 V4.20 M484.20,390.30 V382.00 M484.20,-0.10 V8.20 M495.28,390.30 V386.00 M495.28,-0.10 V4.20 M506.36,390.30 V386.00 M506.36,-0.10 V4.20 M517.44,390.30 V386.00 M517.44,-0.10 V4.20 M528.52,390.30 V386.00 M528.52,-0.10 V4.20 M539.60,390.30 V386.00 M539.60,-0.10 V4.20 M550.68,390.30 V386.00 M550.68,-0.10 V4.20 M561.76,390.30 V386.00 M561.76,-0.10 V4.20 M572.84,390.30 V386.00 M572.84,-0.10 V4.20 M583.92,390.30 V386.00 M583.92,-0.10 V4.20 M41.00,380.54 H46.70 M595.00,380.54 H589.30 M41.00,370.78 H46.70 M595.00,370.78 H589.30 M41.00,361.02 H46.70 M595.00,361.02 H589.30 M41.00,351.26 H46.70 M595.00,351.26 H589.30 M41.00,341.50 H46.70 M595.00,341.50 H589.30 M41.00,331.74 H46.70 M595.00,331.74 H589.30 M41.00,321.98 H46.70 M595.00,321.98 H589.30 M41.00,312.22 H46.70 M595.00,312.22 H589.30 M41.00,302.46 H46.70 M595.00,302.46 H589.30 M41.00,292.70 H52.30 M595.00,292.70 H583.70 M41.00,282.94 H46.70 M595.00,282.94 H589.30 M41.00,273.18 H46.70 M595.00,273.18 H589.30 M41.00,263.42 H46.70 M595.00,263.42 H589.30 M41.00,253.66 H46.70 M595.00,253.66 H589.30 M41.00,243.90 H46.70 M595.00,243.90 H589.30 M41.00,234.14 H46.70 M595.00,234.14 H589.30 M41.00,224.38 H46.70 M595.00,224.38 H589.30 M41.00,214.62 H46.70 M595.00,214.62 H589.30 M41.00,204.86 H46.70 M595.00,204.86 H589.30 M41.00,195.10 H52.30 M595.00,195.10 H583.70 M41.00,185.34 H46.70 M595.00,185.34 H589.30 M41.00,175.58 H46.70 M595.00,175.58 H589.30 M41.00,165.82 H46.70 M595.00,165.82 H589.30 M41.00,156.06 H46.70 M595.00,156.06 H589.30 M41.00,146.30 H46.70 M595.00,146.30 H589.30 M41.00,136.54 H46.70 M595.00,136.54 H589.30 M41.00,126.78 H46.70 M595.00,126.78 H589.30 M41.00,117.02 H46.70 M595.00,117.02 H589.30 M41.00,107.26 H46.70 M595.00,107.26 H589.30 M41.00,97.50 H52.30 M595.00,97.50 H583.70 M41.00,87.74 H46.70 M595.00,87.74 H589.30 M41.00,77.98 H46.70 M595.00,77.98 H589.30 M41.00,68.22 H46.70 M595.00,68.22 H589.30 M41.00,58.46 H46.70 M595.00,58.46 H589.30 M41.00,48.70 H46.70 M595.00,48.70 H589.30 M41.00,38.94 H46.70 M595.00,38.94 H589.30 M41.00,29.18 H46.70 M595.00,29.18 H589.30 M41.00,19.42 H46.70 M595.00,19.42 H589.30 M41.00,9.66 H46.70 M595.00,9.66 H589.30" stroke="#000" stroke-width="1" fill="none"/>
<path d="M40.10,402.46 L38.60,402.94 L37.60,404.37 L37.10,406.76 L37.10,408.20 L37.60,410.59 L38.60,412.02 L40.10,412.50 L41.10,412.50 L42.60,412.02 L43.60,410.59 L44.10,408.20 L44.10,406.76 L43.60,404.37 L42.60,402.94 L41.10,402.46 L40.10,402.46 M149.90,404.37 L150.90,403.90 L152.40,402.46 L152.40,412.50 M259.70,404.85 L259.70,404.37 L260.20,403.42 L260.70,402.94 L261.70,402.46 L263.70,402.46 L264.70,402.94 L265.20,403.42 L265.70,404.37 L265.70,405.33 L265.20,406.29 L264.20,407.72 L259.20,412.50 L266.20,412.50 M371.00,402.46 L376.50,402.46 L373.50,406.29 L375.00,406.29 L376.00,406.76 L376.50,407.24 L377.00,408.68 L377.00,409.63 L376.50,411.07 L375.50,412.02 L374.00,412.50 L372.50,412.50 L371.00,412.02 L370.50,411.54 L370.00,410.59 M485.80,402.46 L480.80,409.15 L488.30,409.15 M485.80,402.46 L485.80,412.50 M597.60,402.46 L592.60,402.46 L592.10,406.76 L592.60,406.29 L594.10,405.81 L595.60,405.81 L597.10,406.29 L598.10,407.24 L598.60,408.68 L598.60,409.63 L598.10,411.07 L597.10,412.02 L595.60,412.50 L594.10,412.50 L592.60,412.02 L592.10,411.54 L591.60,410.59 M28.90,381.97 L29.90,381.50 L31.40,380.06 L31.40,390.10 M27.90,290.95 L27.90,290.47 L28.40,289.52 L28.90,289.04 L29.90,288.56 L31.90,288.56 L32.90,289.04 L33.40,289.52 L33.90,290.47 L33.90,291.43 L33.40,292.39 L32.40,293.82 L27.40,298.60 L34.40,298.60 M28.40,190.96 L33.90,190.96 L30.90,194.79 L32.40,194.79 L33.40,195.26 L33.90,195.74 L34.40,197.18 L34.40,198.13 L33.90,199.57 L32.90,200.52 L31.40,201.00 L29.90,201.00 L28.40,200.52 L27.90,200.04 L27.40,199.09 M32.40,93.36 L27.40,100.05 L34.90,100.05 M32.40,93.36 L32.40,103.40 M33.40,0.31 L28.40,0.31 L27.90,4.61 L28.40,4.14 L29.90,3.66 L31.40,3.66 L32.90,4.14 L33.90,5.09 L34.40,6.53 L34.40,7.48 L33.90,8.92 L32.90,9.87 L31.40,10.35 L29.90,10.35 L28.40,9.87 L27.90,9.39 L27.40,8.44 M317.05,421.5 L322.65,427.1 M322.65,421.5 L317.05,427.1 M463.50,21.16 L463.50,31.20 M463.50,25.94 L462.50,24.99 L461.50,24.51 L460.00,24.51 L459.00,24.99 L458.00,25.94 L457.50,27.38 L457.50,28.33 L458.00,29.77 L459.00,30.72 L460.00,31.20 L461.50,31.20 L462.50,30.72 L463.50,29.77 M468.25,25.46 L476.50,25.46 M468.25,28.33 L476.50,28.33 M483.00,21.16 L481.50,21.64 L480.50,23.07 L480.00,25.46 L480.00,26.90 L480.50,29.29 L481.50,30.72 L483.00,31.20 L484.00,31.20 L485.50,30.72 L486.50,29.29 L487.00,26.90 L487.00,25.46 L486.50,23.07 L485.50,21.64 L484.00,21.16 L483.00,21.16 M491.00,30.24 L490.50,30.72 L491.00,31.20 L491.50,30.72 L491.00,30.24 M498.00,21.16 L496.50,21.64 L495.50,23.07 L495.00,25.46 L495.00,26.90 L495.50,29.29 L496.50,30.72 L498.00,31.20 L499.00,31.20 L500.50,30.72 L501.50,29.29 L502.00,26.90 L502.00,25.46 L501.50,23.07 L500.50,21.64 L499.00,21.16 L498.00,21.16 M463.50,45.96 L463.50,56.00 M463.50,50.74 L462.50,49.79 L461.50,49.31 L460.00,49.31 L459.00,49.79 L458.00,50.74 L457.50,52.18 L457.50,53.13 L458.00,54.57 L459.00,55.52 L460.00,56.00 L461.50,56.00 L462.50,55.52 L463.50,54.57 M468.25,50.26 L476.50,50.26 M468.25,53.13 L476.50,53.13 M483.00,45.96 L481.50,46.44 L480.50,47.87 L480.00,50.26 L480.00,51.70 L480.50,54.09 L481.50,55.52 L483.00,56.00 L484.00,56.00 L485.50,55.52 L486.50,54.09 L487.00,51.70 L487.00,50.26 L486.50,47.87 L485.50,46.44 L484.00,45.96 L483.00,45.96 M491.00,55.04 L490.50,55.52 L491.00,56.00 L491.50,55.52 L491.00,55.04 M496.50,47.87 L497.50,47.40 L499.00,45.96 L499.00,56.00 M463.50,70.86 L463.50,80.90 M463.50,75.64 L462.50,74.69 L461.50,74.21 L460.00,74.21 L459.00,74.69 L458.00,75.64 L457.50,77.08 L457.50,78.03 L458.00,79.47 L459.00,80.42 L460.00,80.90 L461.50,80.90 L462.50,80.42 L463.50,79.47 M468.25,75.16 L476.50,75.16 M468.25,78.03 L476.50,78.03 M483.00,70.86 L481.50,71.34 L480.50,72.77 L480.00,75.16 L480.00,76.60 L480.50,78.99 L481.50,80.42 L483.00,80.90 L484.00,80.90 L485.50,80.42 L486.50,78.99 L487.00,76.60 L487.00,75.16 L486.50,72.77 L485.50,71.34 L484.00,70.86 L483.00,70.86 M491.00,79.94 L490.50,80.42 L491.00,80.90 L491.50,80.42 L491.00,79.94 M495.50,73.25 L495.50,72.77 L496.00,71.82 L496.50,71.34 L497.50,70.86 L499.50,70.86 L500.50,71.34 L501.00,71.82 L501.50,72.77 L501.50,73.73 L501.00,74.69 L500.00,76.12 L495.00,80.90 L502.00,80.90 M463.50,95.66 L463.50,105.70 M463.50,100.44 L462.50,99.49 L461.50,99.01 L460.00,99.01 L459.00,99.49 L458.00,100.44 L457.50,101.88 L457.50,102.83 L458.00,104.27 L459.00,105.22 L460.00,105.70 L461.50,105.70 L462.50,105.22 L463.50,104.27 M468.25,99.96 L476.50,99.96 M468.25,102.83 L476.50,102.83 M483.00,95.66 L481.50,96.14 L480.50,97.57 L480.00,99.96 L480.00,101.40 L480.50,103.79 L481.50,105.22 L483.00,105.70 L484.00,105.70 L485.50,105.22 L486.50,103.79 L487.00,101.40 L487.00,99.96 L486.50,97.57 L485.50,96.14 L484.00,95.66 L483.00,95.66 M491.00,104.74 L490.50,105.22 L491.00,105.70 L491.50,105.22 L491.00,104.74 M501.00,95.66 L496.00,95.66 L495.50,99.96 L496.00,99.49 L497.50,99.01 L499.00,99.01 L500.50,99.49 L501.50,100.44 L502.00,101.88 L502.00,102.83 L501.50,104.27 L500.50,105.22 L499.00,105.70 L497.50,105.70 L496.00,105.22 L495.50,104.74 L495.00,103.79 M463.50,120.46 L463.50,130.50 M463.50,125.24 L462.50,124.29 L461.50,123.81 L460.00,123.81 L459.00,124.29 L458.00,125.24 L457.50,126.68 L457.50,127.63 L458.00,129.07 L459.00,130.02 L460.00,130.50 L461.50,130.50 L462.50,130.02 L463.50,129.07 M468.25,124.76 L476.50,124.76 M468.25,127.63 L476.50,127.63 M481.50,122.37 L482.50,121.90 L484.00,120.46 L484.00,130.50 M491.00,129.54 L490.50,130.02 L491.00,130.50 L491.50,130.02 L491.00,129.54 M498.00,120.46 L496.50,120.94 L495.50,122.37 L495.00,124.76 L495.00,126.20 L495.50,128.59 L496.50,130.02 L498.00,130.50 L499.00,130.50 L500.50,130.02 L501.50,128.59 L502.00,126.20 L502.00,124.76 L501.50,122.37 L500.50,120.94 L499.00,120.46 L498.00,120.46 M463.50,145.26 L463.50,155.30 M463.50,150.04 L462.50,149.09 L461.50,148.61 L460.00,148.61 L459.00,149.09 L458.00,150.04 L457.50,151.48 L457.50,152.43 L458.00,153.87 L459.00,154.82 L460.00,155.30 L461.50,155.30 L462.50,154.82 L463.50,153.87 M468.25,149.56 L476.50,149.56 M468.25,152.43 L476.50,152.43 M480.50,147.65 L480.50,147.17 L481.00,146.22 L481.50,145.74 L482.50,145.26 L484.50,145.26 L485.50,145.74 L486.00,146.22 L486.50,147.17 L486.50,148.13 L486.00,149.09 L485.00,150.52 L480.00,155.30 L487.00,155.30 M491.00,154.34 L490.50,154.82 L491.00,155.30 L491.50,154.82 L491.00,154.34 M498.00,145.26 L496.50,145.74 L495.50,147.17 L495.00,149.56 L495.00,151.00 L495.50,153.39 L496.50,154.82 L498.00,155.30 L499.00,155.30 L500.50,154.82 L501.50,153.39 L502.00,151.00 L502.00,149.56 L501.50,147.17 L500.50,145.74 L499.00,145.26 L498.00,145.26 M463.50,170.16 L463.50,180.20 M463.50,174.94 L462.50,173.99 L461.50,173.51 L460.00,173.51 L459.00,173.99 L458.00,174.94 L457.50,176.38 L457.50,177.33 L458.00,178.77 L459.00,179.72 L460.00,180.20 L461.50,180.20 L462.50,179.72 L463.50,178.77 M468.25,174.46 L476.50,174.46 M468.25,177.33 L476.50,177.33 M481.00,170.16 L486.50,170.16 L483.50,173.99 L485.00,173.99 L486.00,174.46 L486.50,174.94 L487.00,176.38 L487.00,177.33 L486.50,178.77 L485.50,179.72 L484.00,180.20 L482.50,180.20 L481.00,179.72 L480.50,179.24 L480.00,178.29 M491.00,179.24 L490.50,179.72 L491.00,180.20 L491.50,179.72 L491.00,179.24 M498.00,170.16 L496.50,170.64 L495.50,172.07 L495.00,174.46 L495.00,175.90 L495.50,178.29 L496.50,179.72 L498.00,180.20 L499.00,180.20 L500.50,179.72 L501.50,178.29 L502.00,175.90 L502.00,174.46 L501.50,172.07 L500.50,170.64 L499.00,170.16 L498.00,170.16" stroke="#1a1a1a" stroke-width="1.1" fill="none" stroke-linecap="round" stroke-linejoin="round"/>
<path d="M5.90,218.90 L5.90,223.65 L6.40,224.65 L7.40,225.65 L8.90,226.15 L9.90,226.15 L11.40,225.65 L12.40,224.65 L12.90,223.65 L12.90,222.65 L12.40,221.65 L11.40,220.65 L9.90,220.15 L8.90,220.15 L7.40,220.65 L6.40,221.65 L5.90,222.65 M0.40,207.65 L16.40,216.65 M5.90,197.90 L5.90,202.65 L6.40,203.65 L7.40,204.65 L8.90,205.15 L9.90,205.15 L11.40,204.65 L12.40,203.65 L12.90,202.65 L12.90,201.65 L12.40,200.65 L11.40,199.65 L9.90,199.15 L8.90,199.15 L7.40,199.65 L6.40,200.65 L5.90,201.65 M0.40,191.85 L1.40,192.85 L2.90,193.85 L4.90,194.85 L7.40,195.35 L9.40,195.35 L11.90,194.85 L13.90,193.85 L15.40,192.85 L16.40,191.85 M2.40,186.65 L10.90,186.65 L12.40,186.15 L12.90,185.15 L12.90,184.15 M5.90,188.15 L5.90,184.65 M10.73,182.00 L15.24,182.00 L16.04,181.70 L16.30,181.10 L16.30,180.50 M12.59,182.90 L12.59,180.80 M12.59,177.50 L12.86,178.10 L13.38,178.70 L14.18,179.00 L14.71,179.00 L15.51,178.70 L16.04,178.10 L16.30,177.50 L16.30,176.60 L16.04,176.00 L15.51,175.40 L14.71,175.10 L14.18,175.10 L13.38,175.40 L12.86,176.00 L12.59,176.60 L12.59,177.50 M10.73,172.70 L15.24,172.70 L16.04,172.40 L16.30,171.80 L16.30,171.20 M12.59,173.60 L12.59,171.50 M0.40,168.80 L1.40,167.80 L2.90,166.80 L4.90,165.80 L7.40,165.30 L9.40,165.30 L11.90,165.80 L13.90,166.80 L15.40,167.80 L16.40,168.80" stroke="#1a1a1a" stroke-width="1.1" fill="none" stroke-linecap="round" stroke-linejoin="round"/>
<path d="M519.30,31.20 H550.80" stroke="#4030ff" stroke-width="1.20" fill="none"/>
<path d="M519.30,56.00 H550.80" stroke="#40f0d0" stroke-width="1.20" fill="none" stroke-dasharray="1.2 2.73" stroke-dashoffset="1.33"/>
<path d="M519.30,80.90 H550.80" stroke="#96f550" stroke-width="1.20" fill="none" stroke-dasharray="5.8 5.4" stroke-dashoffset="8.30"/>
<path d="M519.30,105.70 H550.80" stroke="#ff7832" stroke-width="1.20" fill="none" stroke-dasharray="6.4 2.5 1.3 2.5" stroke-dashoffset="0.00"/>
<path d="M519.30,130.50 H550.80" stroke="#7d2d96" stroke-width="1.20" fill="none" stroke-dasharray="8.2 2.95 1.3 2.95 1.3 2.95 1.3 2.95" stroke-dashoffset="0.00"/>
<path d="M519.30,155.30 H550.80" stroke="#3c91ff" stroke-width="1.20" fill="none" stroke-dasharray="11.2 5.6" stroke-dashoffset="14.00"/>
<path d="M519.30,180.20 H550.80" stroke="#32f56e" stroke-width="1.20" fill="none"/>
</svg>
</body></html>
